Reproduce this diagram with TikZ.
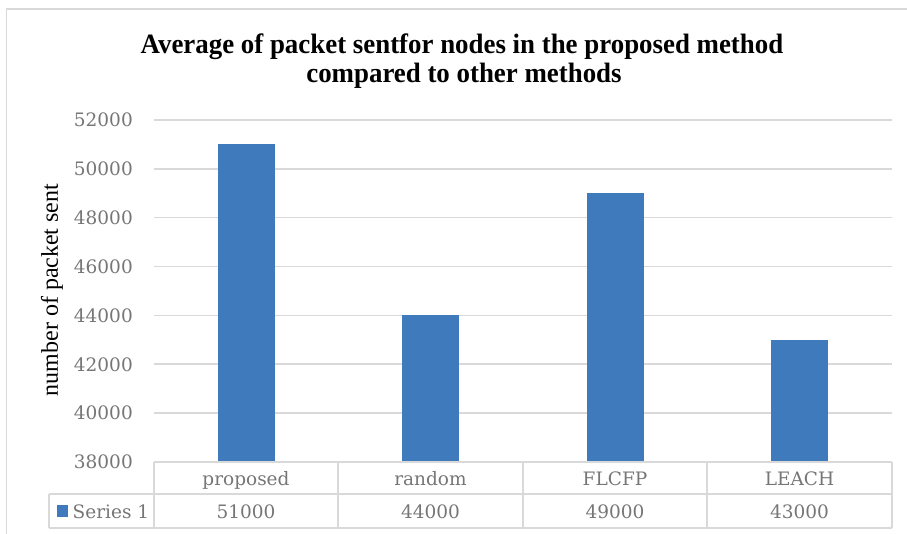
\documentclass[tikz,border=0pt]{standalone}
\usepackage{fontspec}
\setmainfont{DejaVu Serif}
\newfontfamily\titlefont[FakeStretch=0.96]{Liberation Serif}
\newfontfamily\axisfont{Liberation Serif}

\definecolor{barblue}{RGB}{62,122,188}
\definecolor{gridgray}{RGB}{217,217,217}
\definecolor{ticktext}{RGB}{118,118,118}

\begin{document}
\begin{tikzpicture}[x=1pt,y=-1pt,
  gridline/.style={draw=gridgray,line width=1.6pt},
  tablerule/.style={draw=gridgray,line width=1.6pt},
  ticklabel/.style={text=ticktext,anchor=east,inner sep=0pt,font=\fontsize{18.5}{22}\selectfont},
  celltext/.style={text=ticktext,anchor=base,inner sep=0pt,font=\fontsize{18.5}{22}\selectfont},
  titletext/.style={anchor=base,inner sep=0pt,text=black,font=\titlefont\bfseries\fontsize{28}{30}\selectfont},
  barbox/.style={fill=barblue,draw=none}
]
\useasboundingbox (0,0) rectangle (907,534);

% chart frame (runs off the page on the right and bottom)
\begin{scope}
  \clip (0,0) rectangle (907,534);
  \draw[gridgray,line width=1.6pt] (6.5,9) rectangle (940,570);
\end{scope}

% title
\node[titletext] (title1) at (462,54) {Average of packet sentfor nodes in the proposed method};
\node[titletext] (title2) at (464,83) {compared to other methods};

% horizontal gridlines and value axis labels
\foreach \i/\lab in {0/38000,1/40000,2/42000,3/44000,4/46000,5/48000,6/50000,7/52000}{
  \pgfmathsetmacro{\yy}{462-48.86*\i}
  \ifnum\i>0
    \draw[gridline] (154,\yy) -- (892,\yy);
  \fi
  \node[ticklabel] (tick\i) at (133,\yy) {\lab};
}

% axis title
\node[rotate=90,inner sep=0pt,text=black,font=\axisfont\fontsize{24}{28}\selectfont] (ytitle) at (52,290) {number of packet sent};

% bars, values in thousands: top = 462 - (value-38)/2*48.86
\foreach \cx/\val in {246/51,430.5/44,615/49,799.5/43}{
  \pgfmathsetmacro{\bartop}{462-(\val-38)/2*48.86}
  \fill[barbox] (\cx-28.5,\bartop) rectangle (\cx+28.5,462);
}

% data table below the plot
\draw[tablerule] (154,462) -- (892,462);
\draw[tablerule] (49,494) -- (892,494);
\draw[tablerule] (49,528) -- (892,528);
\draw[tablerule] (49,494) -- (49,528);
\foreach \xx in {154,338,523,707,892}{
  \draw[tablerule] (\xx,462) -- (\xx,528);
}

% category names
\node[celltext] (cat1) at (246,485) {proposed};
\node[celltext] (cat2) at (430.5,485) {random};
\node[celltext] (cat3) at (615,485) {FLCFP};
\node[celltext] (cat4) at (799.5,485) {LEACH};

% series row
\fill[barblue] (57,505) rectangle (68,517);
\node[celltext,anchor=base west] (series) at (72.5,518) {Series 1};
\node[celltext] (val1) at (246,518) {51000};
\node[celltext] (val2) at (430.5,518) {44000};
\node[celltext] (val3) at (615,518) {49000};
\node[celltext] (val4) at (799.5,518) {43000};
\end{tikzpicture}
\end{document}
